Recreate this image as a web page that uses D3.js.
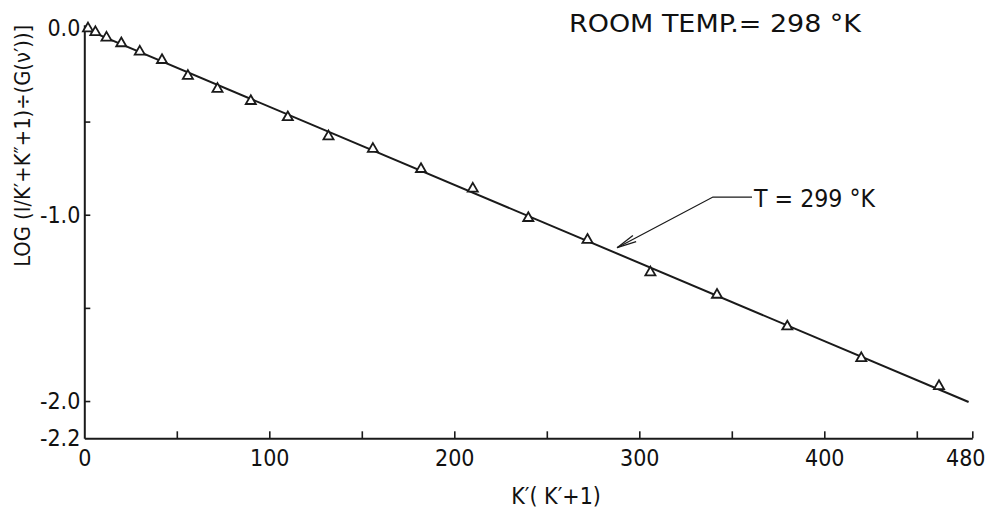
<!DOCTYPE html>
<html>
<head>
<meta charset="utf-8">
<script src="https://cdn.jsdelivr.net/npm/d3@7"></script>
<style>
  html, body { margin: 0; padding: 0; background: #fff; }
  svg { display: block; }
  text { font-family: 'Liberation Sans Narrow', 'DejaVu Sans Condensed', 'Liberation Sans', sans-serif; fill: #111; }
</style>
</head>
<body>
<svg id="chart" width="990" height="512"></svg>
<script>
// ---- data (K'(K'+1) for K' = 1..21, and measured log ratio) ----
const kValues = [2, 6, 12, 20, 30, 42, 56, 72, 90, 110, 132, 156, 182, 210, 240, 272, 306, 342, 380, 420, 462];
const logValues = [0.00, -0.02, -0.05, -0.08, -0.125, -0.17, -0.255, -0.325, -0.39, -0.477, -0.58, -0.647, -0.755, -0.86, -1.018, -1.135, -1.31, -1.43, -1.60, -1.77, -1.92];

// fitted straight line (T = 299 K)
const fitX = [1, 478];
const fitY = [-0.005, -2.005];

// axis ticks
const xTickValues = [50, 100, 150, 200, 250, 300, 350, 400, 450, 480];
const xLabelValues = [0, 100, 200, 300, 400, 480];
const yTickValues = [-0.5, -1.0, -1.5, -2.0];
const yLabelValues = [0.0, -1.0, -2.0, -2.2];

// texts
const xTitle = "K\u2032( K\u2032+1)";
const yTitle = "LOG (I/K\u2032+K\u2033+1)\u00F7(G(\u03BD\u2032))]";
const roomText = "ROOM TEMP.= 298 \u00B0K";
const fitLabel = "T = 299 \u00B0K";
// annotation anchor points in data units: arrow tip, knee, label start
const arrowTip = [288, -1.177];
const arrowKnee = [339.8, -0.905];
const labelAnchor = [362, -0.958];

const svg = d3.select("#chart");

const x = d3.scaleLinear().domain([0, 480]).range([84.3, 972.3]);
const y = d3.scaleLinear().domain([0.02, -2.2]).range([24.7, 438.3]);

const ink = "#1a1a1a";

// y axis: labels outside
const yLab = svg.append("g").attr("transform", `translate(${x(0)},0)`)
  .call(d3.axisLeft(y).tickValues(yLabelValues).tickSize(0).tickPadding(4)
    .tickFormat(d => d.toFixed(1)));
yLab.select(".domain").remove();
yLab.selectAll("text").style("font-size", "23px").attr("fill", ink);

// y axis line + inward ticks
const yAx = svg.append("g").attr("transform", `translate(${x(0)},0)`)
  .call(d3.axisRight(y).tickValues(yTickValues).tickSize(6).tickSizeOuter(0).tickFormat(""));
yAx.select(".domain").attr("stroke", ink).attr("stroke-width", 2);
yAx.selectAll(".tick line").attr("stroke", ink).attr("stroke-width", 1.6);

// x axis labels
const xLab = svg.append("g").attr("transform", `translate(0,${y(-2.2)})`)
  .call(d3.axisBottom(x).tickValues(xLabelValues).tickSize(0).tickPadding(11)
    .tickFormat(d3.format("d")));
xLab.select(".domain").remove();
xLab.selectAll("text").style("font-size", "23px").attr("fill", ink)
  .attr("dx", d => d === 480 ? -7 : 0);

// x axis line + inward ticks
const xAx = svg.append("g").attr("transform", `translate(0,${y(-2.2)})`)
  .call(d3.axisTop(x).tickValues(xTickValues).tickSize(7).tickSizeOuter(0).tickFormat(""));
xAx.select(".domain").attr("stroke", ink).attr("stroke-width", 2);
xAx.selectAll(".tick line").attr("stroke", ink).attr("stroke-width", 1.6);

// fitted line
svg.append("path")
  .datum(fitX.map((v, i) => [v, fitY[i]]))
  .attr("d", d3.line().x(d => x(d[0])).y(d => y(d[1])))
  .attr("fill", "none").attr("stroke", ink).attr("stroke-width", 2);

// data points (open triangles)
svg.append("g").selectAll("path")
  .data(kValues.map((k, i) => [k, logValues[i]]))
  .join("path")
  .attr("transform", d => `translate(${x(d[0])},${y(d[1])})`)
  .attr("d", d3.symbol().type(d3.symbolTriangle).size(44))
  .attr("fill", "#fff").attr("stroke", ink).attr("stroke-width", 1.8);

// arrow annotation
const tip = [x(arrowTip[0]), y(arrowTip[1])];
const knee = [x(arrowKnee[0]), y(arrowKnee[1])];
const lab = [x(labelAnchor[0]), y(labelAnchor[1])];
svg.append("path")
  .attr("d", `M${lab[0] - 2},${knee[1]}L${knee[0]},${knee[1]}L${tip[0]},${tip[1]}`)
  .attr("fill", "none").attr("stroke", ink).attr("stroke-width", 1.3);
const ang = Math.atan2(knee[1] - tip[1], knee[0] - tip[0]);
const barb = 20, spread = 10 * Math.PI / 180;
[ang - spread, ang + spread].forEach(a => {
  svg.append("line")
    .attr("x1", tip[0]).attr("y1", tip[1])
    .attr("x2", tip[0] + barb * Math.cos(a)).attr("y2", tip[1] + barb * Math.sin(a))
    .attr("stroke", ink).attr("stroke-width", 1.3);
});
svg.append("text")
  .attr("x", lab[0]).attr("y", lab[1])
  .attr("textLength", 121).attr("lengthAdjust", "spacingAndGlyphs")
  .style("font-size", "24px").text(fitLabel);

// room temperature note
svg.append("text")
  .attr("x", x(262)).attr("y", 32)
  .attr("textLength", 292).attr("lengthAdjust", "spacingAndGlyphs")
  .style("font-size", "25px").text(roomText);

// axis titles
svg.append("text")
  .attr("x", x(255)).attr("y", 504)
  .attr("text-anchor", "middle")
  .style("font-size", "23px").text(xTitle);

svg.append("text")
  .attr("transform", `translate(30,${y(-0.63)}) rotate(-90)`)
  .attr("text-anchor", "middle")
  .attr("textLength", 242).attr("lengthAdjust", "spacingAndGlyphs")
  .style("font-size", "22px").text(yTitle);
</script>
</body>
</html>
